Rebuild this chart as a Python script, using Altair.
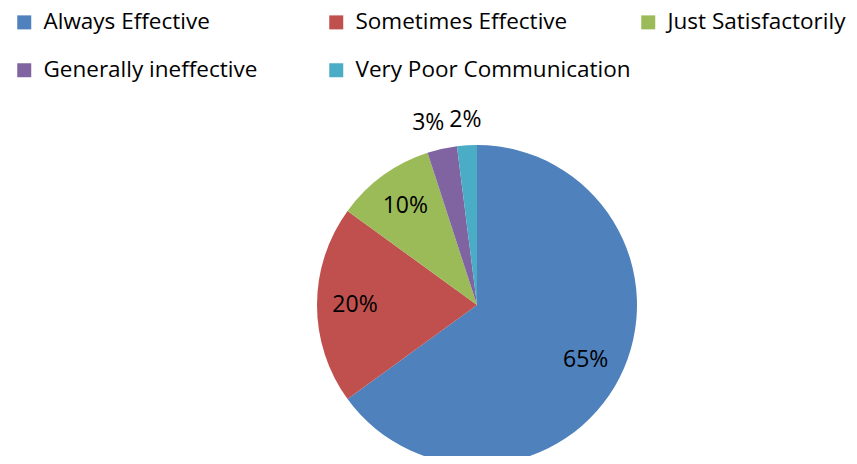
import altair as alt
import pandas as pd

categories = ["Always Effective", "Sometimes Effective", "Just Satisfactorily",
              "Generally ineffective", "Very Poor Communication"]
values = [65, 20, 10, 3, 2]
labels = ["65%", "20%", "10%", "3%", "2%"]
colors = ["#4F81BD", "#C0504D", "#9BBB59", "#8064A2", "#4BACC6"]

df = pd.DataFrame({"category": categories, "value": values,
                   "label": labels, "order": list(range(len(values)))})

FONT = "Open Sans"
FS = 22.5
LFS = 23

base = alt.Chart(df).encode(
    theta=alt.Theta("value:Q", stack=True),
    order=alt.Order("order:Q"),
    x=alt.value(469), y=alt.value(297),
)

arc = base.mark_arc(outerRadius=160).encode(
    color=alt.Color(
        "category:N",
        scale=alt.Scale(domain=categories, range=colors),
        sort=categories,
        legend=alt.Legend(
            title=None, orient="none", legendX=5, legendY=3,
            direction="horizontal",
            columns=3, gridAlign="all", columnPadding=6, rowPadding=25,
            symbolType="square", symbolSize=196, symbolStrokeWidth=0,
            symbolOpacity=1, labelFont=FONT, labelFontSize=FS,
            labelColor="black", labelOffset=8, padding=0, labelLimit=400,
        ),
    ),
)

inside = base.transform_calculate(
    t="datum.value >= 10 ? datum.label : ''"
).mark_text(font=FONT, fontSize=LFS, color="black", radius=122).encode(text="t:N")

out3 = base.transform_calculate(
    t="datum.label == '3%' ? datum.label : ''"
).mark_text(font=FONT, fontSize=LFS, color="black", radius=187, dx=-8).encode(text="t:N")

out2 = base.transform_calculate(
    t="datum.label == '2%' ? datum.label : ''"
).mark_text(font=FONT, fontSize=LFS, color="black", radius=185).encode(text="t:N")

chart = alt.layer(arc, inside, out3, out2).properties(
    width=841, height=448, autosize=alt.AutoSizeParams(type="none"), padding=0
).configure_view(stroke=None)

chart.save("out.html", embed_options={"renderer": "svg", "actions": False})
